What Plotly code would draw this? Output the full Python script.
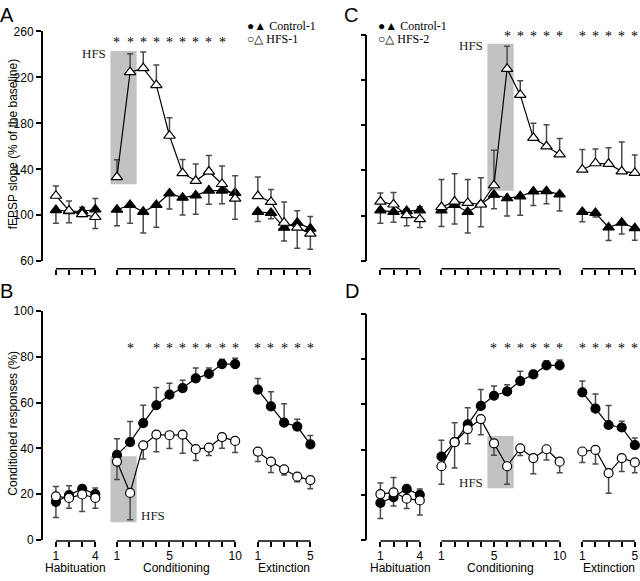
import plotly.graph_objects as go

W, H = 640, 581

# ---------------- data ----------------
groups = ["Habituation", "Conditioning", "Extinction"]
group_sizes = [4, 10, 5]
group_offsets = [0.0, 4.65, 15.38]          # x offset of each session block
tick_text = ["1", "", "", "4",
             "1", "", "", "", "5", "", "", "", "", "10",
             "1", "", "", "", "5"]

# Panel A: fEPSP slope (% of baseline), Control-1 vs HFS-1
A_control = [104.5, 103.5, 103.5, 105.0,
             104.8, 109.0, 103.0, 109.0, 119.0, 115.3, 117.3, 121.5, 121.5, 119.5,
             103.0, 102.0, 89.2, 93.5, 88.4]
A_control_err = [-11.5, -10.0, 3.5, 9.5,
                 -14.0, -16.0, -18.5, -19.5, -13.5, -15.0, -16.5, -12.0, -11.5, -23.0,
                 -8.5, -5.0, -11.6, 10.5, 10.5]
A_hfs = [117.0, 104.0, 101.0, 98.5,
         133.2, 224.5, 228.0, 213.2, 169.2, 136.6, 130.0, 138.0, 127.2, 114.5,
         116.7, 111.6, 93.5, 89.2, 84.1]
A_hfs_err = [8.5, 8.5, -2.0, -10.0,
             15.0, 16.0, 14.0, 17.6, 15.6, 12.0, 14.5, 14.0, 15.6, 19.8,
             16.5, 10.8, 18.0, -17.9, -13.6]

# Panel B: conditioned responses (%), Control-1 vs HFS-1
B_control = [16.7, 19.6, 22.4, 20.1,
             37.2, 42.8, 51.1, 58.9, 63.5, 66.4, 70.6, 72.6, 76.9, 76.9,
             65.7, 58.4, 51.3, 49.6, 41.8]
B_control_err = [-6.8, 4.1, 0.5, 2.6,
                 7.1, 9.0, 7.8, 7.8, 5.0, 3.4, 4.6, 2.6, 2.1, 2.5,
                 4.9, 6.4, 8.3, 3.2, 3.9]
B_hfs = [19.1, 18.4, 19.9, 18.4,
         34.3, 20.6, 41.4, 46.1, 45.8, 46.1, 39.7, 40.4, 45.0, 43.3,
         38.6, 34.3, 30.9, 27.7, 26.2]
B_hfs_err = [4.3, -4.5, -7.4, -4.5,
             -7.8, -11.7, -6.0, -7.5, -5.8, -8.2, -4.9, -3.5, -4.9, -5.0,
             -4.3, -4.8, -2.5, -2.2, -3.8]

# Panel C: fEPSP slope (% of baseline), Control-1 vs HFS-2
C_control = [104.6, 103.2, 104.0, 104.6,
             104.6, 109.5, 103.2, 110.0, 118.4, 115.3, 117.0, 121.3, 121.6, 118.7,
             103.2, 102.3, 89.4, 93.7, 88.8]
C_control_err = [-11.5, -9.2, 2.0, 3.2,
                 -14.4, -17.0, -18.7, -20.0, -12.4, -15.6, -16.7, -12.4, -11.2, -14.7,
                 -8.7, -3.5, -11.6, -10.0, -10.7]
C_hfs = [112.4, 109.8, 100.3, 96.8,
         107.5, 112.4, 111.2, 109.8, 126.8, 229.8, 206.8, 168.8, 161.3, 154.1,
         140.6, 146.3, 145.8, 139.1, 137.7]
C_hfs_err = [7.5, 10.6, -9.3, -7.4,
             24.5, 24.7, 20.8, 23.6, 31.0, 20.0, 12.6, 13.0, 19.0, 14.0,
             17.8, 12.7, 14.3, 25.9, 15.8]

# Panel D: conditioned responses (%), Control-1 vs HFS-2
D_control = [16.5, 19.1, 22.7, 20.1,
             37.0, 43.3, 51.2, 59.3, 63.8, 65.7, 70.3, 73.2, 77.2, 77.2,
             65.3, 58.1, 50.9, 49.8, 42.0]
D_control_err = [-6.9, -4.0, 0.5, 2.6,
                 7.2, 8.6, 7.3, 7.3, 4.3, 3.0, 4.3, 1.7, 2.1, 2.4,
                 5.0, 6.5, 8.6, 2.7, 3.2]
D_hfs = [20.4, 21.2, 18.4, 17.6,
         32.7, 43.3, 49.1, 53.5, 42.8, 32.7, 40.6, 36.3, 40.2, 34.7,
         39.2, 39.9, 29.7, 36.3, 34.4]
D_hfs_err = [4.9, 6.5, -4.3, -6.4,
             -8.0, -11.4, -6.5, -6.9, -5.2, -8.0, -3.2, -6.9, -4.8, -4.9,
             -4.8, -6.2, -8.9, -5.9, -4.6]

# significance stars: trial numbers per session
A_stars = {"Conditioning": [1, 2, 3, 4, 5, 6, 7, 8, 9], "Extinction": []}
B_stars = {"Conditioning": [2, 4, 5, 6, 7, 8, 9, 10], "Extinction": [1, 2, 3, 4, 5]}
C_stars = {"Conditioning": [6, 7, 8, 9, 10], "Extinction": [1, 2, 3, 4, 5]}
D_stars = {"Conditioning": [5, 6, 7, 8, 9, 10], "Extinction": [1, 2, 3, 4, 5]}

# HFS window (conditioning trial span, value span)
A_hfs_window = ((0.5, 2.5), (127, 243))
B_hfs_window = ((0.5, 2.5), (7.8, 36.6))
C_hfs_window = ((4.5, 6.5), (122, 252))
D_hfs_window = ((4.5, 6.5), (23, 46))

fepsp_ticks = [60, 100, 140, 180, 220, 260]
cr_ticks = [0, 20, 40, 60, 80, 100]

# ---------------- layout helpers ----------------
SANS = "Liberation Sans, Arial, sans-serif"
SERIF = "Liberation Serif, Times New Roman, serif"
ERRC = "#4a4a4a"


def block_positions():
    out = []
    for off, n in zip(group_offsets, group_sizes):
        out.append([off + i for i in range(1, n + 1)])
    return out


POS = block_positions()
ALLPOS = [p for blk in POS for p in blk]

panels = [
    dict(k=1, letter="A", letter_px=(-2, 8.5), ctrl=A_control, ctrl_err=A_control_err,
         hfs=A_hfs, hfs_err=A_hfs_err,
         symbol="triangle-up", msize=10, xpx=42.85, ypx=(260.5, 25.0), yrange=(60, 260),
         yticks=fepsp_ticks, ylabels=True, bottom=False, bracket=268.3, star_py=36,
         stars=A_stars, win=A_hfs_window, hfs_side="left", hfs_label_y=241,
         legend=("Control-1", "HFS-1"), legend_px=246.5, ytitle="fEPSP slope (% of the baseline)"),
    dict(k=2, letter="B", letter_px=(-2, 291), ctrl=B_control, ctrl_err=B_control_err,
         hfs=B_hfs, hfs_err=B_hfs_err,
         symbol="circle", msize=9, xpx=42.85, ypx=(546.2, 311.7), yrange=(0, 100),
         yticks=cr_ticks, ylabels=True, bottom=True, bracket=547.3, star_py=350,
         stars=B_stars, win=B_hfs_window, hfs_side="right", hfs_label_y=10.9,
         legend=None, legend_px=None, ytitle="Conditioned responses (%)"),
    dict(k=3, letter="C", letter_px=(342.5, 8.5), ctrl=C_control, ctrl_err=C_control_err,
         hfs=C_hfs, hfs_err=C_hfs_err,
         symbol="triangle-up", msize=10, xpx=367.85, ypx=(260.0, 28.5), yrange=(60, 260),
         yticks=fepsp_ticks, ylabels=False, bottom=False, bracket=268.3, star_py=30,
         stars=C_stars, win=C_hfs_window, hfs_side="left", hfs_label_y=250.8,
         legend=("Control-1", "HFS-2"), legend_px=377.5, ytitle=None),
    dict(k=4, letter="D", letter_px=(343.5, 291), ctrl=D_control, ctrl_err=D_control_err,
         hfs=D_hfs, hfs_err=D_hfs_err,
         symbol="circle", msize=9, xpx=367.85, ypx=(546.5, 314.3), yrange=(0, 100),
         yticks=cr_ticks, ylabels=False, bottom=True, bracket=547.3, star_py=350,
         stars=D_stars, win=D_hfs_window, hfs_side="left", hfs_label_y=25.6,
         legend=None, legend_px=None, ytitle=None),
]

PX_PER_UNIT = 13.15
XMAX = 20.6

fig = go.Figure()
layout = dict(width=W, height=H, autosize=False,
              margin=dict(l=0, r=0, t=0, b=0),
              paper_bgcolor="white", plot_bgcolor="white",
              showlegend=False, shapes=[], annotations=[])


def split(vals):
    out, i = [], 0
    for n in group_sizes:
        out.append(vals[i:i + n])
        i += n
    return out


for p in panels:
    k = p["k"]
    xa = "x" if k == 1 else f"x{k}"
    ya = "y" if k == 1 else f"y{k}"
    xkey = "xaxis" if k == 1 else f"xaxis{k}"
    ykey = "yaxis" if k == 1 else f"yaxis{k}"

    x0 = p["xpx"] / W
    x1 = (p["xpx"] + XMAX * PX_PER_UNIT) / W
    ybot, ytop = p["ypx"]
    layout[xkey] = dict(domain=[x0, x1], range=[0, XMAX], anchor="free",
                        position=1 - p["bracket"] / H,
                        showline=False, showgrid=False, zeroline=False,
                        ticks="outside", ticklen=5, tickwidth=1.5, tickcolor="black",
                        tickmode="array", tickvals=ALLPOS,
                        ticktext=tick_text if p["bottom"] else [""] * len(ALLPOS),
                        ticklabelstandoff=-2,
                        tickfont=dict(family=SANS, size=12, color="black"),
                        fixedrange=True)
    layout[ykey] = dict(domain=[1 - ybot / H, 1 - ytop / H], range=list(p["yrange"]),
                        anchor=xa, showline=True, linewidth=1.5, linecolor="black",
                        showgrid=False, zeroline=False,
                        ticks="outside", ticklen=5, tickwidth=1.5, tickcolor="black",
                        tickmode="array", tickvals=p["yticks"],
                        showticklabels=p["ylabels"],
                        tickfont=dict(family=SANS, size=12, color="black"),
                        fixedrange=True)

    # HFS window
    (c0, c1), (v0, v1) = p["win"]
    off_c = group_offsets[1]
    layout["shapes"].append(dict(type="rect", xref=xa, yref=ya,
                                 x0=off_c + c0, x1=off_c + c1, y0=v0, y1=v1,
                                 fillcolor="#c2c2c2", line=dict(width=0), layer="below"))
    if p["hfs_side"] == "left":
        layout["annotations"].append(dict(text="HFS", xref=xa, yref=ya, x=off_c + c0,
                                          y=p["hfs_label_y"], xanchor="right", yanchor="middle",
                                          xshift=-2, showarrow=False,
                                          font=dict(family=SERIF, size=13, color="#222")))
    else:
        layout["annotations"].append(dict(text="HFS", xref=xa, yref=ya, x=off_c + c1,
                                          y=p["hfs_label_y"], xanchor="left", yanchor="middle",
                                          xshift=2, showarrow=False,
                                          font=dict(family=SERIF, size=13, color="#222")))

    # bracket lines under each session block
    for blk in POS:
        layout["shapes"].append(dict(type="line", xref=xa, yref="paper",
                                     x0=blk[0], x1=blk[-1],
                                     y0=1 - p["bracket"] / H, y1=1 - p["bracket"] / H,
                                     line=dict(color="black", width=1.5)))

    # session names
    if p["bottom"]:
        for name, blk in zip(groups, POS):
            layout["annotations"].append(dict(text=name, xref=xa, yref="paper",
                                              x=(blk[0] + blk[-1]) / 2, y=1 - 575 / H,
                                              xanchor="center", yanchor="middle", showarrow=False,
                                              font=dict(family=SANS, size=12, color="black")))

    # stars
    for gname, trials in p["stars"].items():
        gi = groups.index(gname)
        for t in trials:
            layout["annotations"].append(dict(text="*", xref=xa, yref="paper",
                                              x=POS[gi][t - 1], y=1 - p["star_py"] / H,
                                              xanchor="center", yanchor="middle", showarrow=False,
                                              font=dict(family=SERIF, size=14, color="black")))

    # data traces
    for series, errs, fill in ((p["ctrl"], p["ctrl_err"], "black"),
                               (p["hfs"], p["hfs_err"], "white")):
        for blk, vals, ev in zip(POS, split(series), split(errs)):
            fig.add_trace(go.Scatter(
                x=blk, y=vals, xaxis=xa, yaxis=ya, mode="lines+markers",
                line=dict(color="black", width=1.2),
                marker=dict(symbol=p["symbol"], size=p["msize"], color=fill,
                            line=dict(color="black", width=1.2)),
                error_y=dict(type="data", symmetric=False,
                             array=[max(e, 0) for e in ev],
                             arrayminus=[max(-e, 0) for e in ev],
                             color=ERRC, thickness=1.5, width=3),
                cliponaxis=False, hoverinfo="skip"))

    # panel letter
    lx, ly = p["letter_px"]
    layout["annotations"].append(dict(text=p["letter"], xref="paper", yref="paper",
                                      x=lx / W, y=1 - ly / H,
                                      xanchor="left", yanchor="middle", showarrow=False,
                                      font=dict(family=SANS, size=20, color="black")))

    # y title
    if p["ytitle"]:
        layout["annotations"].append(dict(text=p["ytitle"], xref="paper", yref="paper",
                                          x=13 / W, y=1 - ((ybot + ytop) / 2 - 3) / H,
                                          textangle=-90, xanchor="center", yanchor="middle",
                                          showarrow=False,
                                          font=dict(family=SANS, size=12, color="black")))

    # legend (two compact rows)
    if p["legend"]:
        sym_f, sym_o = ("●▲", "○△")
        for txt, py in ((sym_f + " " + p["legend"][0], 19.5), (sym_o + " " + p["legend"][1], 33.0)):
            layout["annotations"].append(dict(text=txt, xref="paper", yref="paper",
                                              x=p["legend_px"] / W, y=1 - py / H,
                                              xanchor="left", yanchor="middle", showarrow=False,
                                              borderpad=0,
                                              font=dict(family=SERIF, size=12, color="black")))

fig.update_layout(**layout)
fig.write_html("out.html", config={"displayModeBar": False},
               post_script="document.body.style.margin='0';document.body.style.overflow='hidden';")
